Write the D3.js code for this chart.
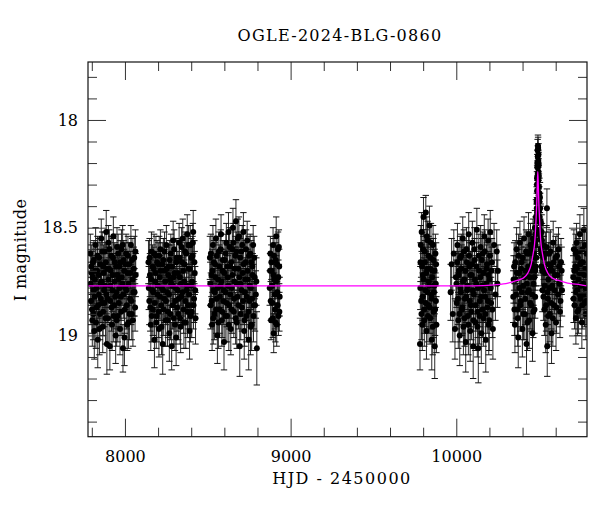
<!DOCTYPE html>
<html>
<head>
<meta charset="utf-8">
<script src="https://cdn.jsdelivr.net/npm/d3@7"></script>
<style>
  body { margin: 0; background: #fff; }
  text { font-family: "DejaVu Serif", serif; }
</style>
</head>
<body>
<script>
// photometry, arrays per observing season: [HJD-2450000, I mag, error]
const season1 = [[7791,18.62,0.09],[7795,18.84,0.11],[7799,18.71,0.10],[7803,18.93,0.12],[7807,18.66,0.09],[7811,18.79,0.10],[7815,18.98,0.13],[7819,18.74,0.10],[7823,18.58,0.08],[7828,18.87,0.11],[7832,18.70,0.10],[7836,19.02,0.13],[7840,18.81,0.11],[7844,18.64,0.09],[7849,18.90,0.12],[7853,18.76,0.10],[7857,18.55,0.09],[7861,18.85,0.11],[7866,18.96,0.12],[7870,18.68,0.10],[7874,18.79,0.10],[7878,18.61,0.09],[7883,18.92,0.12],[7887,18.52,0.10],[7891,19.04,0.14],[7896,18.83,0.11],[7900,18.57,0.08],[7904,18.69,0.10],[7909,19.05,0.11],[7913,18.77,0.10],[7917,18.63,0.09],[7922,18.95,0.12],[7926,18.72,0.10],[7930,18.54,0.09],[7935,18.86,0.11],[7939,18.66,0.09],[7944,19.00,0.13],[7948,18.80,0.11],[7952,18.59,0.09],[7957,18.91,0.12],[7961,18.74,0.10],[7966,18.68,0.10],[7970,18.97,0.12],[7975,18.82,0.11],[7979,18.60,0.09],[7984,18.76,0.10],[7988,19.06,0.11],[7993,18.65,0.09],[7997,19.01,0.13],[8002,18.78,0.10],[8007,18.62,0.09],[8011,18.86,0.11],[8016,18.71,0.10],[8021,18.94,0.12],[8026,18.67,0.10],[8031,18.83,0.11],[8036,18.58,0.09],[8041,18.90,0.12],[8046,18.74,0.10],[8051,18.80,0.11],[8056,18.64,0.10],[8061,18.87,0.11],[8065,18.72,0.10]];
const season1b = [[7793,18.76,0.10],[7797,18.68,0.10],[7801,18.88,0.11],[7805,18.73,0.10],[7809,18.90,0.12],[7813,18.65,0.09],[7817,18.82,0.11],[7821,18.70,0.10],[7825,18.94,0.12],[7830,18.78,0.10],[7834,18.63,0.09],[7838,18.86,0.11],[7842,18.72,0.10],[7846,18.97,0.12],[7851,18.67,0.10],[7855,18.83,0.11],[7859,18.75,0.10],[7863,18.61,0.09],[7868,18.89,0.11],[7872,18.71,0.10],[7876,18.85,0.11],[7880,18.77,0.10],[7885,18.66,0.09],[7889,18.81,0.11],[7893,18.69,0.10],[7898,18.92,0.12],[7902,18.74,0.10],[7906,18.60,0.09],[7911,18.84,0.11],[7915,18.70,0.10],[7919,18.87,0.11],[7924,18.79,0.10],[7928,18.64,0.09],[7932,18.91,0.12],[7937,18.75,0.10],[7941,18.82,0.11],[7946,18.68,0.10],[7950,18.93,0.12],[7954,18.72,0.10],[7959,18.62,0.09],[7963,18.85,0.11],[7968,18.78,0.10],[7972,18.66,0.10],[7977,18.89,0.11],[7981,18.73,0.10],[7986,18.58,0.09],[7990,18.81,0.11],[7995,18.70,0.10],[7999,18.88,0.11],[8004,18.67,0.10],[8009,18.79,0.10],[8013,18.95,0.12],[8018,18.63,0.09],[8023,18.76,0.10],[8028,18.90,0.12],[8033,18.71,0.10],[8038,18.84,0.11],[8043,18.65,0.10],[8048,18.93,0.12],[8053,18.69,0.10],[8058,18.80,0.11],[8063,18.61,0.10]];
const season2 = [[8142,18.66,0.10],[8147,18.84,0.11],[8151,18.72,0.10],[8156,18.95,0.12],[8160,18.61,0.09],[8165,18.79,0.10],[8169,18.88,0.12],[8174,18.69,0.10],[8178,19.02,0.13],[8183,18.75,0.10],[8187,18.63,0.09],[8192,18.91,0.12],[8196,18.81,0.11],[8201,18.67,0.10],[8205,18.97,0.13],[8210,18.73,0.10],[8214,18.60,0.09],[8219,18.86,0.11],[8223,18.78,0.10],[8228,19.04,0.14],[8232,18.65,0.10],[8237,18.83,0.11],[8241,18.70,0.10],[8246,18.93,0.12],[8250,18.58,0.09],[8255,18.80,0.11],[8259,18.89,0.12],[8264,18.68,0.10],[8268,18.99,0.13],[8273,18.74,0.10],[8277,18.62,0.09],[8282,19.05,0.11],[8286,18.77,0.10],[8291,18.56,0.09],[8295,18.92,0.12],[8300,18.71,0.10],[8304,18.84,0.11],[8309,19.01,0.13],[8313,18.64,0.09],[8318,18.79,0.10],[8322,18.90,0.12],[8327,18.57,0.09],[8331,18.73,0.10],[8336,18.96,0.12],[8340,18.82,0.11],[8345,18.66,0.10],[8349,18.55,0.09],[8354,18.88,0.11],[8358,18.75,0.10],[8363,18.61,0.09],[8367,18.94,0.12],[8372,18.79,0.11],[8376,18.53,0.09],[8381,18.86,0.11],[8385,18.69,0.10],[8390,18.98,0.13],[8394,18.58,0.09],[8399,18.77,0.10],[8403,18.89,0.12],[8408,18.63,0.09],[8412,18.52,0.10],[8417,18.83,0.11],[8421,18.71,0.10],[8426,18.92,0.12]];
const season2b = [[8144,18.78,0.10],[8149,18.64,0.09],[8153,18.87,0.11],[8158,18.74,0.10],[8162,18.91,0.12],[8167,18.68,0.10],[8171,18.80,0.11],[8176,18.62,0.09],[8180,18.85,0.11],[8185,18.71,0.10],[8189,18.94,0.12],[8194,18.66,0.10],[8198,18.77,0.10],[8203,18.89,0.12],[8207,18.63,0.09],[8212,18.82,0.11],[8216,18.70,0.10],[8221,18.96,0.13],[8225,18.67,0.10],[8230,18.79,0.10],[8234,18.88,0.12],[8239,18.61,0.09],[8243,18.75,0.10],[8248,18.84,0.11],[8252,18.69,0.10],[8257,18.93,0.12],[8261,18.72,0.10],[8266,18.81,0.11],[8270,18.65,0.09],[8275,18.90,0.12],[8279,18.76,0.10],[8284,18.68,0.10],[8288,18.86,0.11],[8293,18.73,0.10],[8297,18.60,0.09],[8302,18.95,0.12],[8306,18.78,0.10],[8311,18.66,0.10],[8315,18.87,0.11],[8320,18.71,0.10],[8324,18.83,0.11],[8329,18.64,0.09],[8333,18.92,0.12],[8338,18.76,0.10],[8342,18.59,0.09],[8347,18.80,0.11],[8351,18.70,0.10],[8356,18.94,0.12],[8360,18.67,0.10],[8365,18.84,0.11],[8369,18.62,0.09],[8374,18.77,0.10],[8378,18.89,0.12],[8383,18.58,0.09],[8387,18.81,0.11],[8392,18.69,0.10],[8396,18.91,0.12],[8401,18.64,0.09],[8405,18.75,0.10],[8410,18.57,0.09],[8414,18.86,0.11],[8419,18.66,0.10],[8424,18.79,0.11]];
const season3 = [[8513,18.64,0.10],[8517,18.86,0.11],[8522,18.72,0.10],[8526,18.95,0.12],[8531,18.58,0.09],[8535,18.79,0.10],[8540,18.90,0.12],[8544,18.67,0.10],[8549,18.55,0.09],[8553,18.83,0.11],[8558,19.00,0.13],[8562,18.74,0.10],[8567,18.61,0.09],[8571,18.88,0.11],[8576,18.77,0.10],[8580,18.53,0.09],[8585,18.93,0.12],[8589,18.70,0.10],[8594,18.84,0.11],[8598,19.03,0.13],[8603,18.65,0.09],[8607,18.80,0.10],[8612,18.57,0.09],[8616,18.91,0.12],[8621,18.73,0.10],[8625,18.52,0.09],[8630,18.86,0.11],[8634,18.68,0.10],[8639,18.97,0.12],[8643,18.78,0.10],[8648,18.60,0.09],[8652,18.50,0.09],[8657,18.89,0.12],[8661,18.75,0.10],[8666,18.63,0.09],[8670,18.47,0.10],[8675,18.94,0.12],[8679,18.82,0.11],[8684,18.69,0.10],[8688,18.54,0.09],[8693,19.05,0.14],[8697,18.76,0.10],[8702,18.61,0.09],[8706,18.87,0.11],[8711,18.71,0.10],[8715,18.52,0.09],[8720,18.98,0.13],[8724,18.80,0.11],[8729,18.66,0.10],[8733,18.91,0.12],[8738,18.56,0.09],[8742,18.74,0.10],[8747,19.02,0.14],[8751,18.84,0.11],[8756,18.62,0.09],[8760,18.78,0.10],[8765,18.95,0.12],[8769,18.68,0.10],[8774,18.58,0.09],[8778,18.86,0.11],[8783,18.73,0.10],[8790,18.81,0.11],[8796,19.06,0.17]];
const season3b = [[8515,18.76,0.10],[8519,18.62,0.09],[8524,18.84,0.11],[8528,18.70,0.10],[8533,18.92,0.12],[8537,18.66,0.10],[8542,18.80,0.11],[8546,18.73,0.10],[8551,18.88,0.11],[8555,18.63,0.09],[8560,18.78,0.10],[8564,18.94,0.12],[8569,18.68,0.10],[8573,18.82,0.11],[8578,18.60,0.09],[8582,18.75,0.10],[8587,18.89,0.12],[8591,18.65,0.09],[8596,18.79,0.10],[8600,18.71,0.10],[8605,18.91,0.12],[8609,18.62,0.09],[8614,18.85,0.11],[8618,18.68,0.10],[8623,18.77,0.10],[8627,18.95,0.12],[8632,18.59,0.09],[8636,18.81,0.11],[8641,18.66,0.10],[8645,18.88,0.11],[8650,18.72,0.10],[8654,18.57,0.09],[8659,18.83,0.11],[8663,18.69,0.10],[8668,18.92,0.12],[8672,18.61,0.09],[8677,18.76,0.10],[8681,18.55,0.09],[8686,18.86,0.11],[8690,18.73,0.10],[8695,18.64,0.09],[8699,18.90,0.12],[8704,18.79,0.10],[8708,18.58,0.09],[8713,18.84,0.11],[8717,18.67,0.10],[8722,18.93,0.12],[8726,18.74,0.10],[8731,18.60,0.09],[8735,18.82,0.11],[8740,18.70,0.10],[8744,18.89,0.12],[8749,18.63,0.09],[8753,18.77,0.10],[8758,18.96,0.13],[8762,18.66,0.10],[8767,18.83,0.11],[8771,18.72,0.10],[8776,18.91,0.12],[8780,18.64,0.10],[8785,18.86,0.12],[8793,18.75,0.11]];
const season4 = [[8874,18.78,0.08],[8878,18.62,0.08],[8882,18.93,0.09],[8886,18.70,0.08],[8890,18.85,0.09],[8894,18.58,0.08],[8898,18.99,0.09],[8902,18.74,0.08],[8906,18.88,0.09],[8910,18.65,0.08],[8913,18.54,0.09],[8916,18.95,0.10],[8920,18.80,0.08],[8924,18.60,0.08],[8927,18.91,0.09],[8931,18.68,0.08],[8934,18.82,0.09]];
const season4b = [[8876,18.70,0.08],[8880,18.84,0.09],[8884,18.66,0.08],[8888,18.77,0.08],[8892,18.92,0.09],[8896,18.72,0.08],[8900,18.63,0.08],[8904,18.81,0.09],[8908,18.94,0.09],[8912,18.75,0.08],[8918,18.67,0.08],[8922,18.86,0.09],[8926,18.73,0.08],[8929,18.59,0.08],[8932,18.89,0.09]];
const season5 = [[9781,19.04,0.12],[9784,18.66,0.09],[9788,18.84,0.11],[9791,18.52,0.09],[9795,18.95,0.12],[9798,18.72,0.10],[9802,18.45,0.09],[9806,18.88,0.11],[9809,18.61,0.09],[9813,18.79,0.10],[9816,18.43,0.08],[9820,18.98,0.13],[9824,18.69,0.10],[9827,18.56,0.09],[9831,18.86,0.11],[9834,18.75,0.10],[9838,18.49,0.09],[9842,18.92,0.12],[9845,18.64,0.09],[9849,18.81,0.11],[9852,19.02,0.14],[9856,18.70,0.10],[9860,18.58,0.09],[9863,18.89,0.12],[9867,18.77,0.10],[9870,19.05,0.15],[9874,18.62,0.09],[9877,18.84,0.11],[9880,18.95,0.13]];
const season5b = [[9783,18.78,0.10],[9786,18.58,0.09],[9790,18.90,0.12],[9793,18.68,0.10],[9797,18.82,0.11],[9800,18.60,0.09],[9804,18.74,0.10],[9807,18.93,0.12],[9811,18.66,0.10],[9815,18.85,0.11],[9818,18.71,0.10],[9822,18.54,0.09],[9826,18.80,0.11],[9829,18.91,0.12],[9833,18.63,0.09],[9836,18.77,0.10],[9840,18.87,0.12],[9843,18.69,0.10],[9847,18.57,0.09],[9851,18.83,0.11],[9854,18.73,0.10],[9858,18.96,0.13],[9862,18.65,0.10],[9865,18.80,0.11],[9869,18.70,0.10],[9872,18.88,0.12],[9876,18.76,0.11],[9878,18.67,0.10]];
const season6 = [[9966,18.80,0.13],[9972,18.67,0.12],[9979,18.90,0.13],[9985,18.62,0.11],[9992,18.97,0.14],[9998,18.73,0.11],[10003,18.85,0.12],[10007,18.58,0.10],[10012,18.93,0.13],[10016,18.70,0.11],[10021,19.00,0.14],[10025,18.78,0.11],[10030,18.63,0.10],[10034,18.88,0.12],[10039,18.55,0.10],[10043,18.96,0.13],[10048,18.74,0.11],[10052,18.83,0.12],[10057,19.03,0.14],[10061,18.60,0.10],[10066,18.79,0.11],[10070,18.91,0.13],[10075,18.53,0.10],[10079,18.68,0.11],[10084,18.98,0.14],[10088,18.86,0.12],[10093,18.72,0.11],[10097,18.57,0.10],[10102,19.05,0.15],[10106,18.81,0.12],[10111,18.65,0.10],[10115,18.94,0.13],[10120,18.76,0.11],[10124,18.51,0.10],[10129,18.89,0.12],[10133,19.06,0.16],[10138,18.70,0.11],[10142,18.84,0.12],[10147,18.59,0.10],[10151,18.99,0.14],[10156,18.77,0.11],[10160,18.62,0.10],[10165,18.92,0.13],[10169,18.54,0.10],[10174,18.82,0.12],[10178,19.02,0.15],[10183,18.69,0.11],[10187,18.87,0.12],[10192,18.56,0.10],[10196,18.95,0.14],[10201,18.74,0.11],[10205,18.52,0.10],[10210,18.85,0.12],[10215,18.66,0.11],[10221,18.97,0.14],[10228,18.58,0.10],[10236,18.81,0.12],[10244,18.61,0.10],[10248,18.76,0.11],[10251,18.70,0.12]];
const season6b = [[10001,18.76,0.11],[10005,18.66,0.10],[10010,18.83,0.12],[10014,18.72,0.11],[10019,18.90,0.13],[10023,18.64,0.10],[10028,18.80,0.12],[10032,18.69,0.11],[10037,18.87,0.12],[10041,18.75,0.11],[10046,18.61,0.10],[10050,18.92,0.13],[10055,18.70,0.11],[10059,18.82,0.12],[10064,18.66,0.10],[10068,18.77,0.11],[10073,18.95,0.14],[10077,18.63,0.10],[10082,18.84,0.12],[10086,18.72,0.11],[10091,18.89,0.13],[10095,18.67,0.10],[10100,18.79,0.11],[10104,18.93,0.13],[10109,18.60,0.10],[10113,18.74,0.11],[10118,18.86,0.12],[10122,18.68,0.11],[10127,18.96,0.14],[10131,18.78,0.11],[10136,18.63,0.10],[10140,18.91,0.13],[10145,18.73,0.11],[10149,18.82,0.12],[10154,18.65,0.10],[10158,18.88,0.13],[10163,18.71,0.11],[10167,18.79,0.11],[10172,18.61,0.10],[10176,18.90,0.13],[10181,18.76,0.11],[10185,18.67,0.10],[10190,18.84,0.12],[10194,18.72,0.11],[10199,18.93,0.14],[10203,18.63,0.10],[10208,18.78,0.11],[10213,18.70,0.11],[10218,18.88,0.13]];
const season7 = [[10344,18.82,0.12],[10349,18.68,0.11],[10354,18.95,0.13],[10359,18.74,0.11],[10364,18.60,0.10],[10369,18.88,0.12],[10374,19.01,0.14],[10379,18.71,0.11],[10384,18.57,0.10],[10389,18.84,0.12],[10394,18.66,0.11],[10399,18.97,0.13],[10404,18.77,0.11],[10409,18.55,0.10],[10414,18.90,0.12],[10419,18.70,0.11],[10424,19.04,0.14],[10428,18.62,0.10],[10432,18.80,0.11],[10436,18.53,0.10],[10440,18.93,0.13],[10444,18.73,0.11],[10448,18.58,0.10],[10452,18.86,0.12],[10456,18.67,0.10],[10460,18.99,0.13],[10463,18.55,0.09],[10466,18.76,0.10],[10469,18.62,0.09],[10472,18.88,0.11],[10475,18.50,0.08],[10477,18.70,0.09],[10479,18.58,0.08],[10481,18.45,0.08],[10483,18.64,0.08],[10485,18.38,0.07],[10486,18.52,0.07],[10487,18.30,0.06],[10488,18.43,0.07],[10489,18.22,0.06],[10490,18.33,0.06],[10491,18.14,0.05],[10492,18.25,0.06],[10493,18.12,0.05],[10494,18.20,0.06],[10495,18.28,0.06],[10496,18.16,0.05],[10497,18.35,0.07],[10498,18.26,0.06],[10500,18.42,0.07],[10502,18.34,0.07],[10504,18.51,0.08],[10506,18.41,0.07],[10508,18.60,0.08],[10511,18.48,0.08],[10514,18.68,0.09],[10517,18.56,0.08],[10520,18.79,0.10],[10524,18.58,0.09],[10528,18.64,0.10],[10532,18.88,0.12],[10536,18.71,0.11],[10540,18.95,0.13],[10544,18.59,0.10],[10547,18.41,0.09],[10549,19.05,0.14],[10553,18.83,0.12],[10556,18.74,0.11],[10560,18.62,0.10],[10565,18.90,0.13],[10570,18.68,0.11],[10575,18.99,0.14],[10580,18.77,0.11],[10585,18.57,0.10],[10590,18.86,0.12],[10596,18.72,0.11],[10602,18.94,0.13],[10608,18.63,0.10],[10614,18.81,0.12],[10620,18.68,0.10],[10626,18.89,0.12],[10632,18.66,0.11],[10638,18.79,0.12]];
const season7b = [[10346,18.74,0.11],[10351,18.88,0.12],[10356,18.66,0.10],[10361,18.81,0.11],[10366,18.71,0.11],[10371,18.92,0.13],[10376,18.63,0.10],[10381,18.78,0.11],[10386,18.86,0.12],[10391,18.69,0.10],[10396,18.80,0.11],[10401,18.64,0.10],[10406,18.90,0.12],[10411,18.73,0.11],[10416,18.83,0.12],[10421,18.61,0.10],[10426,18.76,0.11],[10430,18.94,0.13],[10434,18.68,0.10],[10438,18.79,0.11],[10442,18.62,0.10],[10446,18.85,0.12],[10450,18.70,0.10],[10454,18.60,0.09],[10458,18.81,0.11],[10462,18.69,0.10],[10465,18.89,0.12],[10468,18.57,0.09],[10471,18.73,0.10],[10474,18.64,0.09],[10476,18.82,0.10],[10478,18.53,0.08],[10480,18.68,0.09],[10482,18.56,0.08],[10484,18.47,0.08],[10486,18.41,0.07],[10487,18.37,0.07],[10488,18.27,0.06],[10489,18.33,0.06],[10490,18.20,0.06],[10491,18.26,0.06],[10492,18.17,0.05],[10493,18.22,0.06],[10494,18.13,0.05],[10495,18.19,0.05],[10496,18.24,0.06],[10497,18.21,0.06],[10499,18.31,0.06],[10501,18.38,0.07],[10503,18.45,0.07],[10505,18.36,0.07],[10507,18.54,0.08],[10509,18.47,0.08],[10512,18.62,0.09],[10515,18.52,0.08],[10518,18.70,0.09],[10522,18.63,0.09],[10526,18.82,0.11],[10530,18.69,0.10],[10534,18.77,0.11],[10538,18.62,0.10],[10542,18.86,0.12],[10546,18.70,0.11],[10551,18.80,0.11],[10555,18.91,0.13],[10558,18.67,0.10],[10563,18.78,0.11],[10568,18.61,0.10],[10573,18.85,0.12],[10578,18.70,0.11],[10583,18.92,0.13],[10588,18.66,0.10],[10593,18.79,0.11],[10599,18.64,0.10],[10605,18.87,0.12],[10611,18.72,0.11],[10617,18.60,0.10],[10623,18.76,0.11],[10629,18.84,0.12],[10636,18.70,0.11]];
const season8 = [[10706,18.73,0.10],[10710,18.60,0.09],[10714,18.86,0.11],[10718,18.68,0.10],[10722,18.92,0.12],[10726,18.57,0.09],[10730,18.79,0.10],[10734,18.64,0.09],[10738,18.88,0.11],[10742,18.71,0.10],[10746,18.53,0.09],[10750,18.83,0.11],[10754,18.66,0.10],[10758,18.94,0.12],[10762,18.60,0.09],[10766,18.76,0.10],[10770,18.51,0.10],[10774,18.85,0.11],[10778,18.69,0.10],[10782,18.90,0.12],[10786,18.62,0.10]];
const season8b = [[10708,18.83,0.11],[10712,18.70,0.10],[10716,18.76,0.10],[10720,18.62,0.09],[10724,18.80,0.11],[10728,18.69,0.10],[10732,18.89,0.11],[10736,18.74,0.10],[10740,18.61,0.09],[10744,18.81,0.11],[10748,18.67,0.10],[10752,18.77,0.10],[10756,18.71,0.10],[10760,18.86,0.11],[10764,18.66,0.10],[10768,18.81,0.11],[10772,18.72,0.10],[10776,18.58,0.09],[10780,18.78,0.10],[10784,18.84,0.11]];

// microlensing model curve
const modelT = [7777, 10100, 10232, 10312, 10367, 10402, 10432, 10452, 10464, 10472, 10477, 10482, 10486, 10489, 10492, 10495, 10498, 10502, 10507, 10512, 10520, 10532, 10552, 10582, 10617, 10672, 10752, 10790];
const modelMag = [18.77, 18.77, 18.765, 18.757, 18.745, 18.735, 18.71, 18.67, 18.62, 18.58, 18.53, 18.45, 18.38, 18.30, 18.24, 18.30, 18.38, 18.45, 18.53, 18.58, 18.62, 18.67, 18.71, 18.735, 18.745, 18.757, 18.765, 18.77];

const titleText = "OGLE-2024-BLG-0860";
const xMajor = [8000, 9000, 10000];
const yMajor = [18, 18.5, 19];

const W = 600, H = 512;
const L = 88, R = 587, T = 62, B = 436.7;

const points = [].concat(season1, season1b, season2, season2b, season3, season3b, season4, season4b,
    season5, season5b, season6, season6b, season7, season7b, season8, season8b);

const svg = d3.select("body").append("svg")
    .attr("width", W)
    .attr("height", H);

const x = d3.scaleLinear().domain([7777, 10789]).range([L, R]);
const y = d3.scaleLinear().domain([17.731, 19.47]).range([T, B]);

svg.append("defs").append("clipPath").attr("id", "plotclip")
    .append("rect").attr("x", L).attr("y", T).attr("width", R - L).attr("height", B - T);

const plot = svg.append("g").attr("clip-path", "url(#plotclip)");

// error bars
plot.append("g").selectAll("line")
    .data(points)
    .enter().append("line")
        .attr("x1", d => x(d[0]))
        .attr("x2", d => x(d[0]))
        .attr("y1", d => y(d[1] - d[2]))
        .attr("y2", d => y(d[1] + d[2]))
        .attr("stroke", "#2a2a2a")
        .attr("stroke-width", 1);

const caps = plot.append("g");
[-1, 1].forEach(s => {
    caps.selectAll("line.c" + (s + 1))
        .data(points)
        .enter().append("line")
            .attr("class", "c" + (s + 1))
            .attr("x1", d => x(d[0]) - 3.2)
            .attr("x2", d => x(d[0]) + 3.2)
            .attr("y1", d => y(d[1] + s * d[2]))
            .attr("y2", d => y(d[1] + s * d[2]))
            .attr("stroke", "#111")
            .attr("stroke-width", 1);
});

plot.append("g").selectAll("circle")
    .data(points)
    .enter().append("circle")
        .attr("cx", d => x(d[0]))
        .attr("cy", d => y(d[1]))
        .attr("r", 3)
        .attr("fill", "#000");

// model on top
plot.append("path")
    .datum(d3.zip(modelT, modelMag))
    .attr("d", d3.line().x(d => x(d[0])).y(d => y(d[1])).curve(d3.curveMonotoneX))
    .attr("fill", "none")
    .attr("stroke", "#ff00ff")
    .attr("stroke-width", 1.3);

// axes, ticks pointing inward on all four sides
const xMinor = d3.range(7800, 10790, 200).filter(v => !xMajor.includes(v));
const yMinor = d3.range(17.8, 19.45, 0.1).map(v => +v.toFixed(1)).filter(v => !yMajor.includes(v));

function styleAxis(g) {
    g.select(".domain").remove();
    g.selectAll(".tick line").attr("stroke", "#333").attr("stroke-width", 1);
    g.selectAll(".tick text").attr("fill", "#000").style("font-family", "DejaVu Serif").style("font-size", "16px");
}

svg.append("g").attr("transform", `translate(0,${B})`)
    .call(d3.axisBottom(x).tickValues(xMajor).tickSizeInner(-18).tickSizeOuter(0).tickPadding(14).tickFormat(d3.format("d")))
    .call(styleAxis);
svg.append("g").attr("transform", `translate(0,${B})`)
    .call(d3.axisBottom(x).tickValues(xMinor).tickSizeInner(-9).tickSizeOuter(0).tickFormat(""))
    .call(styleAxis);
svg.append("g").attr("transform", `translate(0,${T})`)
    .call(d3.axisTop(x).tickValues(xMajor).tickSizeInner(-18).tickSizeOuter(0).tickFormat(""))
    .call(styleAxis);
svg.append("g").attr("transform", `translate(0,${T})`)
    .call(d3.axisTop(x).tickValues(xMinor).tickSizeInner(-9).tickSizeOuter(0).tickFormat(""))
    .call(styleAxis);

svg.append("g").attr("transform", `translate(${L},0)`)
    .call(d3.axisLeft(y).tickValues(yMajor).tickSizeInner(-18).tickSizeOuter(0).tickPadding(10).tickFormat(d => d3.format("")(d)))
    .call(styleAxis);
svg.append("g").attr("transform", `translate(${L},0)`)
    .call(d3.axisLeft(y).tickValues(yMinor).tickSizeInner(-9).tickSizeOuter(0).tickFormat(""))
    .call(styleAxis);
svg.append("g").attr("transform", `translate(${R},0)`)
    .call(d3.axisRight(y).tickValues(yMajor).tickSizeInner(-18).tickSizeOuter(0).tickFormat(""))
    .call(styleAxis);
svg.append("g").attr("transform", `translate(${R},0)`)
    .call(d3.axisRight(y).tickValues(yMinor).tickSizeInner(-9).tickSizeOuter(0).tickFormat(""))
    .call(styleAxis);

// frame
svg.append("rect")
    .attr("x", L).attr("y", T)
    .attr("width", R - L).attr("height", B - T)
    .attr("fill", "none")
    .attr("stroke", "#111")
    .attr("stroke-width", 1.2);

// texts
svg.append("text")
    .attr("x", 340).attr("y", 41)
    .attr("text-anchor", "middle")
    .style("font-size", "16px")
    .style("letter-spacing", "1.3px")
    .text(titleText);

svg.append("text")
    .attr("x", 342).attr("y", 484)
    .attr("text-anchor", "middle")
    .style("font-size", "16px")
    .style("letter-spacing", "1.5px")
    .text("HJD - 2450000");

svg.append("text")
    .attr("transform", "translate(26,250) rotate(-90)")
    .attr("text-anchor", "middle")
    .style("font-size", "16px")
    .style("letter-spacing", "0.4px")
    .text("I magnitude");
</script>
</body>
</html>
